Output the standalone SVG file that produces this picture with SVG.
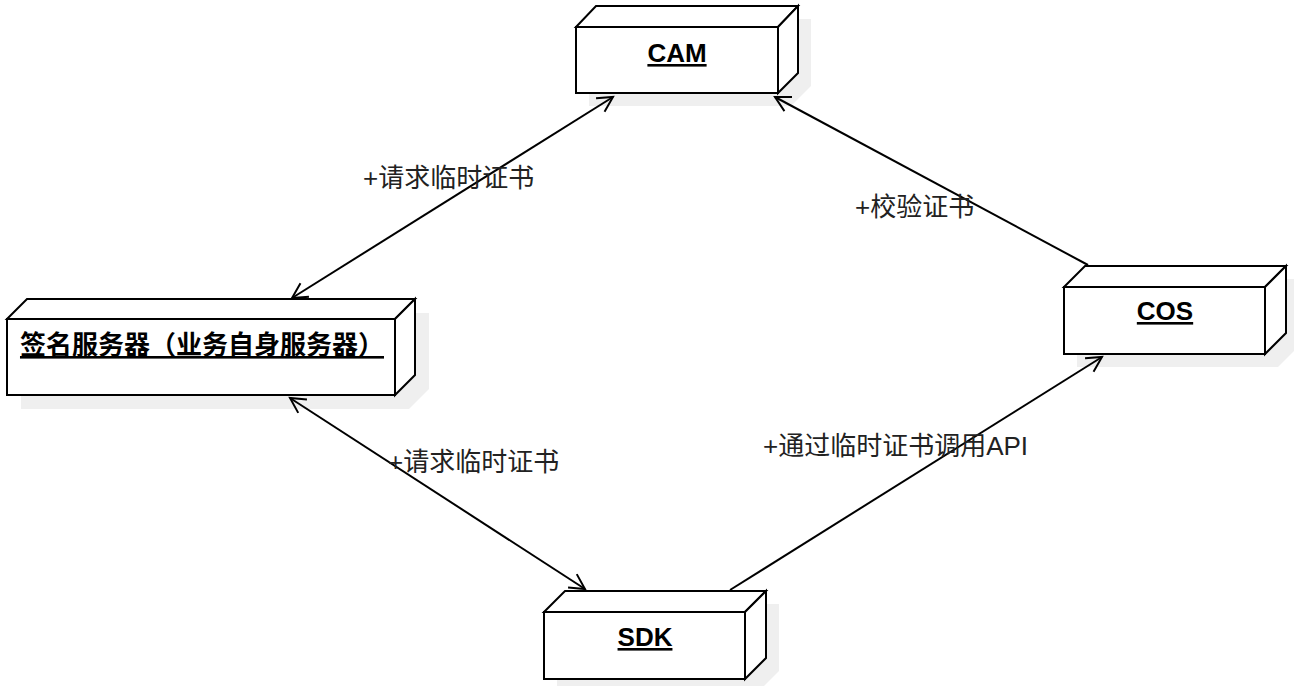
<svg xmlns="http://www.w3.org/2000/svg" width="1294" height="686" viewBox="0 0 1294 686">
<defs>
<style>
.shadow{fill:#efefef;stroke:none}
.face{fill:#fff;stroke:#000;stroke-width:2;stroke-linejoin:miter}
.name{font-family:"Liberation Sans","Noto Sans CJK SC",sans-serif;font-size:26px;font-weight:bold;text-anchor:middle;text-decoration:underline;fill:#000}
.lbl{font-family:"Liberation Sans","Noto Sans CJK SC",sans-serif;font-size:26px;fill:#222}
.conn{stroke:#000;stroke-width:2;fill:none}
</style>
<marker id="arr" markerUnits="userSpaceOnUse" markerWidth="22" markerHeight="22" refX="16" refY="9" orient="auto-start-reverse">
<path d="M1,1 L16,9 L1,17" fill="none" stroke="#000" stroke-width="2"/>
</marker>
</defs>
<rect width="1294" height="686" fill="#fff"/>

<g id="node-cam">
<polygon class="shadow" points="589,40 609,19 811,19 811,86 791,106 589,106"/>
<rect class="face" x="576" y="27" width="202" height="66"/>
<polygon class="face" points="576,27 596,6 798,6 778,27"/>
<polygon class="face" points="778,27 798,6 798,73 778,93"/>
<text class="name" x="677" y="62">CAM</text>
</g>

<g id="node-sign">
<polygon class="shadow" points="21,333 41,313 429,313 429,389 409,409 21,409"/>
<rect class="face" x="7" y="319" width="388" height="76"/>
<polygon class="face" points="7,319 27,299 415,299 395,319"/>
<polygon class="face" points="395,319 415,299 415,375 395,395"/>
<text class="name" x="202" y="354">签名服务器（业务自身服务器）</text>
</g>

<g id="node-cos">
<polygon class="shadow" points="1077,300 1098,279 1299,279 1299,346 1278,367 1077,367"/>
<rect class="face" x="1064" y="287" width="201" height="67"/>
<polygon class="face" points="1064,287 1085,266 1286,266 1265,287"/>
<polygon class="face" points="1265,287 1286,266 1286,333 1265,354"/>
<text class="name" x="1165" y="320">COS</text>
</g>

<g id="node-sdk">
<polygon class="shadow" points="557,625 578,604 779,604 779,671 758,692 557,692"/>
<rect class="face" x="544" y="612" width="201" height="67"/>
<polygon class="face" points="544,612 565,591 766,591 745,612"/>
<polygon class="face" points="745,612 766,591 766,658 745,679"/>
<text class="name" x="645" y="646">SDK</text>
</g>

<g id="connectors">
<line class="conn" x1="292" y1="298" x2="613" y2="97" marker-start="url(#arr)" marker-end="url(#arr)"/>
<line class="conn" x1="1088" y1="265" x2="775" y2="97" marker-end="url(#arr)"/>
<line class="conn" x1="290" y1="398" x2="585" y2="589" marker-start="url(#arr)" marker-end="url(#arr)"/>
<line class="conn" x1="730" y1="590" x2="1102" y2="357" marker-end="url(#arr)"/>
<text class="lbl" x="363" y="187">+请求临时证书</text>
<text class="lbl" x="855" y="216">+校验证书</text>
<text class="lbl" x="388" y="471">+请求临时证书</text>
<text class="lbl" x="763" y="455">+通过临时证书调用API</text>
</g>
</svg>
